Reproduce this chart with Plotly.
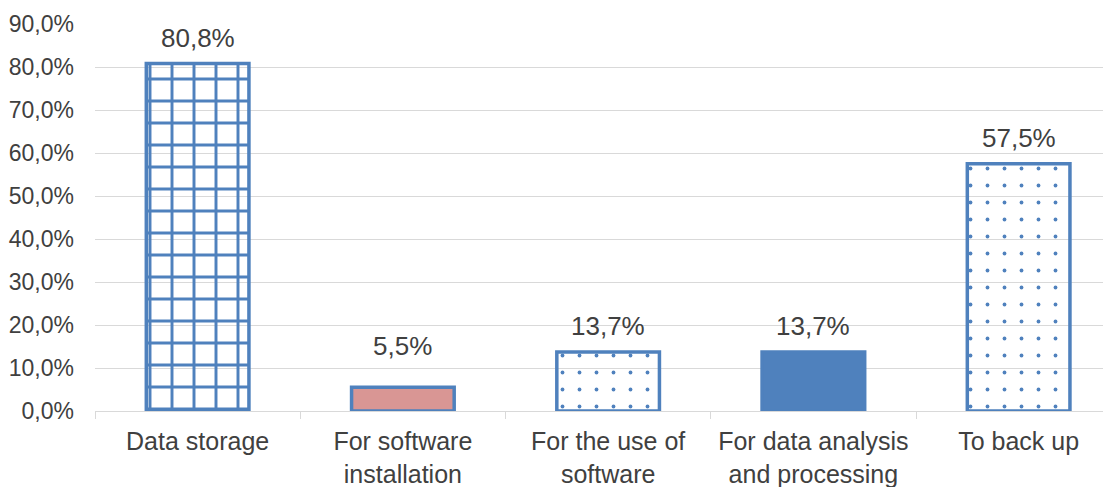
import plotly.graph_objects as go

categories = [
    "Data storage",
    "For software<br>installation",
    "For the use of<br>software",
    "For data analysis<br>and processing",
    "To back up",
]
values = [80.8, 5.5, 13.7, 13.7, 57.5]
labels = ["80,8%", "5,5%", "13,7%", "13,7%", "57,5%"]
tick_vals = [0, 10, 20, 30, 40, 50, 60, 70, 80, 90]
tick_text = [f"{v:.1f}%".replace(".", ",") for v in tick_vals]

BLUE = "#4f81bd"
PINK = "#d99694"
TEXT = "#404040"
GRID = "#d9d9d9"

# per-bar styling: pattern colour (or plain fill) and pattern shape
colors = [BLUE, PINK, BLUE, BLUE, BLUE]
shapes = ["+", "", ".", "", "."]
label_shift = [9, 24, 9, 9, 9]

fig = go.Figure()
fig.add_trace(go.Bar(
    x=categories, y=values,
    width=0.5,
    marker=dict(
        color=colors,
        line=dict(color=BLUE, width=3.5),
        pattern=dict(
            shape=shapes, bgcolor="white",
            size=[22, 10, 17, 10, 17], solidity=[0.25, 0.2, 0.04, 0.2, 0.04],
            fillmode="replace",
        ),
    ),
    hoverinfo="skip",
))

for cat, v, lab, dy in zip(categories, values, labels, label_shift):
    fig.add_annotation(
        x=cat, y=v, text=lab, showarrow=False,
        yanchor="bottom", yshift=dy,
        font=dict(size=26, color=TEXT),
    )

# page body adds an 8px offset, so the figure is 8px smaller than the window
fig.update_layout(
    width=1103, height=479,
    margin=dict(l=87, r=0, t=16, b=76),
    paper_bgcolor="white", plot_bgcolor="white",
    font=dict(family="Liberation Sans, Arial, sans-serif", size=25, color=TEXT),
    showlegend=False,
)
fig.update_xaxes(
    range=[-0.5, 4.45],
    showline=True, linecolor=GRID, linewidth=1,
    ticks="outside", tickson="boundaries", ticklen=7, tickcolor=GRID,
    ticklabelstandoff=8,
    tickfont=dict(size=25, color=TEXT),
    showgrid=False,
)
fig.update_yaxes(
    range=[0, 90], tickvals=tick_vals, ticktext=tick_text,
    showgrid=True, gridcolor=GRID, gridwidth=1,
    zeroline=False, showline=False,
    ticklabelstandoff=20,
    tickfont=dict(size=23, color=TEXT),
)

fig.write_html("out.html")
